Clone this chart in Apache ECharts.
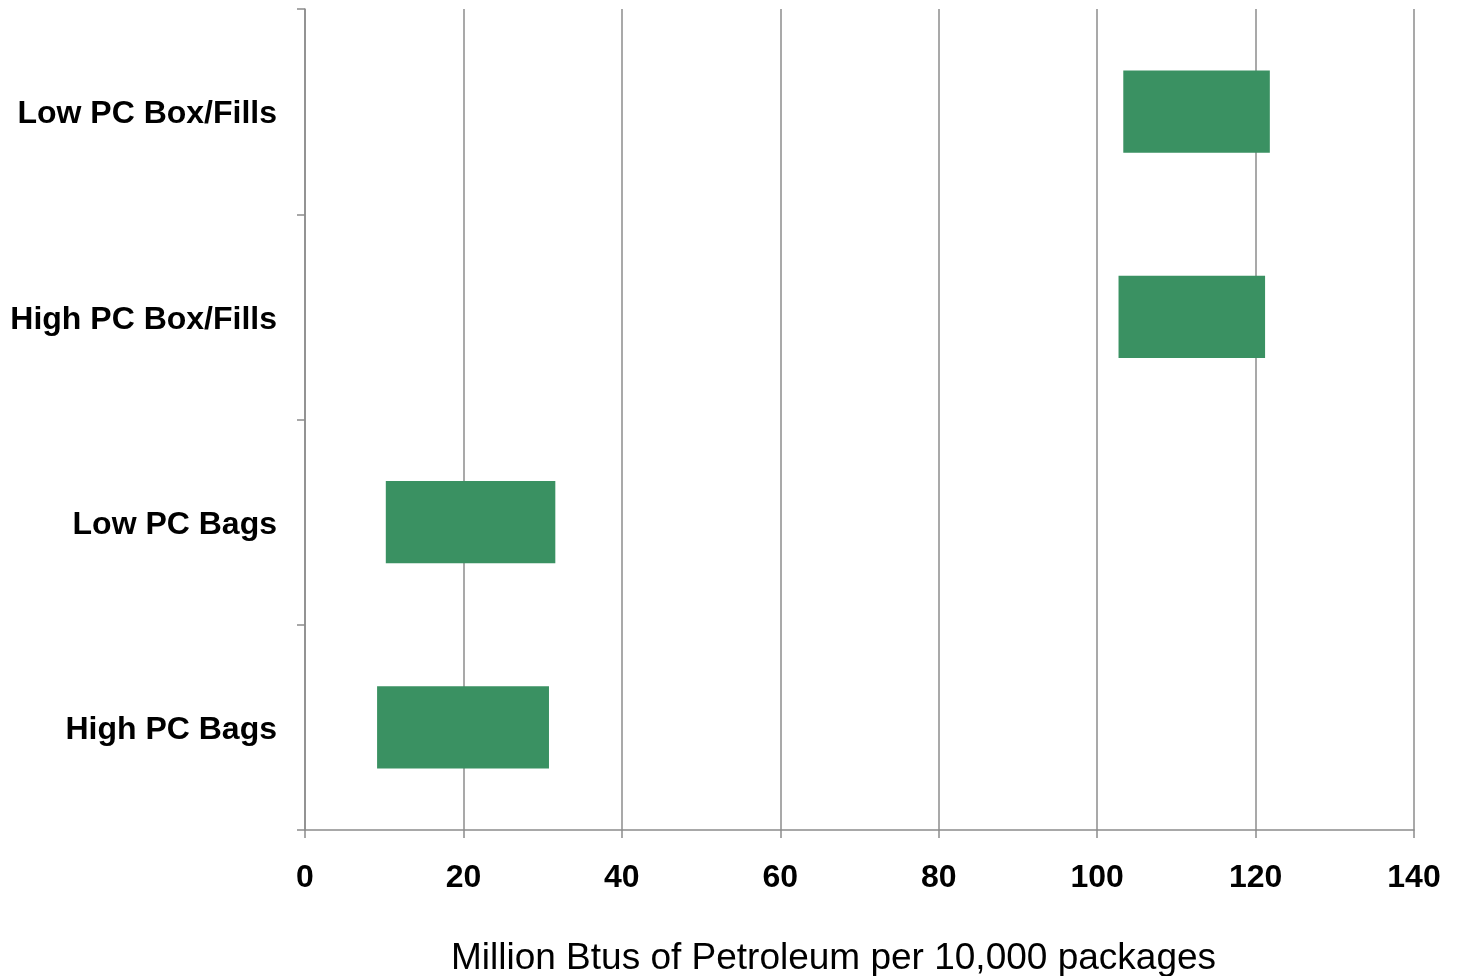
<!DOCTYPE html>
<html>
<head>
<meta charset="utf-8">
<script src="https://cdn.jsdelivr.net/npm/echarts@6/dist/echarts.min.js"></script>
<style>html,body{margin:0;padding:0;background:#fff}#c{width:1458px;height:976px}</style>
</head>
<body>
<div id="c"></div>
<script>
const categories = ['Low PC Box/Fills', 'High PC Box/Fills', 'Low PC Bags', 'High PC Bags'];
const lowValues = [103.3, 102.7, 10.2, 9.1];
const highValues = [121.8, 121.2, 31.6, 30.8];
const xTicks = [0, 20, 40, 60, 80, 100, 120, 140];
const axisName = 'Million Btus of Petroleum per 10,000 packages';

const spans = highValues.map((h, i) => +(h - lowValues[i]).toFixed(2));
const chart = echarts.init(document.getElementById('c'));
const font = '"Liberation Sans", Arial, sans-serif';
chart.setOption({
  animation: false,
  grid: { left: 305, right: 44, top: 9, bottom: 146, containLabel: false, outerBoundsMode: 'none' },
  xAxis: {
    type: 'value', min: xTicks[0], max: xTicks[xTicks.length - 1], interval: 20,
    axisLine: { show: true, lineStyle: { color: '#8c8c8c', width: 1.5 } },
    axisTick: { show: true, length: 8, lineStyle: { color: '#8c8c8c', width: 1.5 } },
    splitLine: { show: true, lineStyle: { color: '#8c8c8c', width: 1.5 } },
    axisLabel: { color: '#000', fontFamily: font, fontWeight: 'bold', fontSize: 32, margin: 32 },
    name: axisName, nameLocation: 'middle', nameGap: 110,
    nameTextStyle: { color: '#000', fontFamily: font, fontSize: 37, padding: [0, 52, 0, 0] }
  },
  yAxis: {
    type: 'category', data: categories, inverse: true,
    axisLine: { show: true, lineStyle: { color: '#8c8c8c', width: 1.5 } },
    axisTick: { show: true, length: 8, lineStyle: { color: '#8c8c8c', width: 1.5 } },
    splitLine: { show: false },
    axisLabel: {
      color: '#000', fontFamily: font, fontWeight: 'bold', fontSize: 32, margin: 28,
      formatter: v => '{a|' + v + '}',
      rich: { a: { color: '#000', fontFamily: font, fontWeight: 'bold', fontSize: 32, padding: [6, 0, 0, 0] } }
    }
  },
  series: [
    { type: 'bar', stack: 'r', data: lowValues, itemStyle: { color: 'transparent' }, barCategoryGap: '60%', silent: true },
    { type: 'bar', stack: 'r', data: spans, itemStyle: { color: '#3A9162' }, barCategoryGap: '60%' }
  ]
});
</script>
</body>
</html>
